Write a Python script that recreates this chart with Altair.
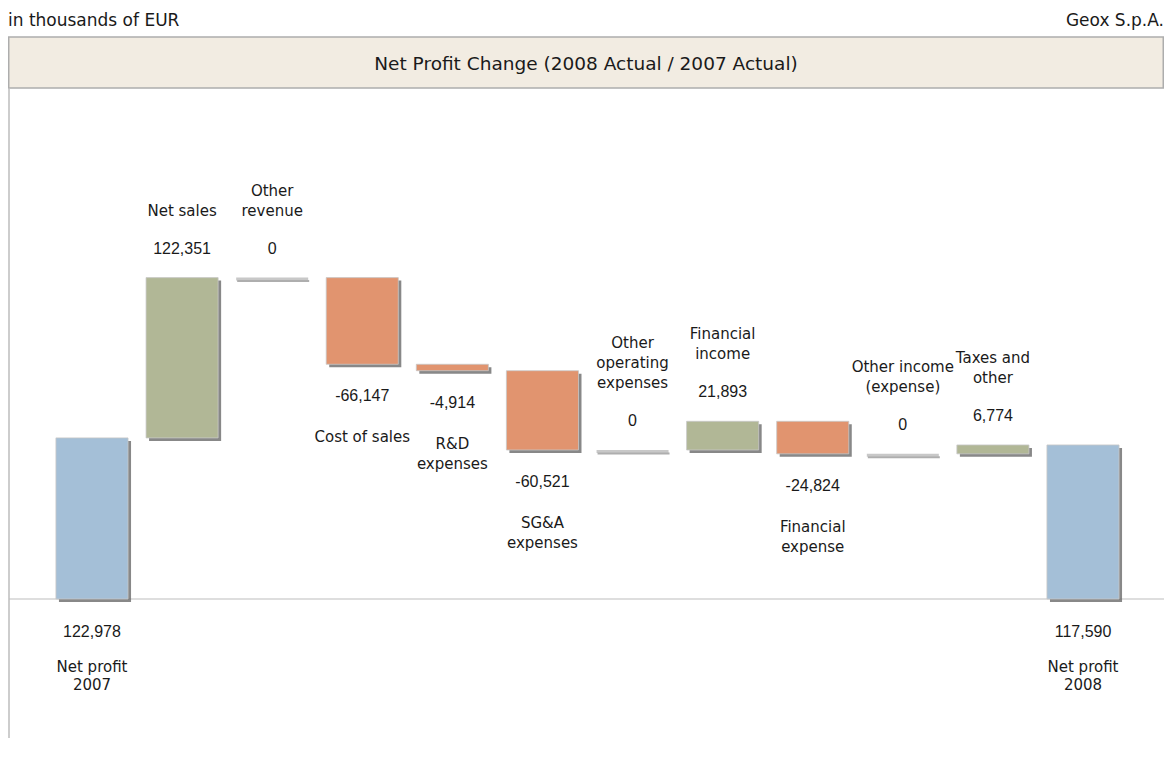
import altair as alt
import pandas as pd

# ---- data (in thousands of EUR) ----
labels = ["Net profit\n2007", "Net sales", "Other\nrevenue", "Cost of sales",
          "R&D\nexpenses", "SG&A\nexpenses", "Other\noperating\nexpenses",
          "Financial\nincome", "Financial\nexpense", "Other income\n(expense)",
          "Taxes and\nother", "Net profit\n2008"]
values = [122978, 122351, 0, -66147, -4914, -60521, 0, 21893, -24824, 0, 6774, 117590]
kinds = ["total", "up", "zero", "down", "down", "down", "zero", "up", "down", "zero", "up", "total"]

rows = []
running = 0
for lab, v, k in zip(labels, values, kinds):
    if k == "total":
        start, end = 0, v
        running = v
    else:
        start, end = running, running + v
        running = end
    rows.append(dict(key=lab, value=v, kind=k, start=start, end=end,
                     top=max(start, end), bottom=min(start, end),
                     text=f"{v:,}", zero=0, nlines=lab.count("\n") + 1))
df = pd.DataFrame(rows)

W, H = 1156, 730
px_per_unit = 1.31 / 1000.0
zero_y = 591
yscale = alt.Scale(domain=[-(H - zero_y) / px_per_unit, zero_y / px_per_unit], nice=False, zero=False)
xenc = alt.X("key:N", sort=labels, axis=None,
             scale=alt.Scale(range=[38.95, 1120.05], paddingInner=0.2, paddingOuter=0.1))

LABEL_FONT = "DejaVu Sans"
NUM_FONT = "Liberation Sans"
TXT = "#1a1a1a"
LH = 20

base = alt.Chart(df)

shadow = base.transform_filter("datum.kind != 'zero'").mark_bar(
    color="#6a6a6a", opacity=0.8, xOffset=3, x2Offset=3, yOffset=3, y2Offset=3
).encode(x=xenc, y=alt.Y("start:Q", scale=yscale, axis=None), y2="end:Q")

bars = base.transform_filter("datum.kind != 'zero'").mark_bar(
    stroke="#C8C8C8", strokeWidth=0.8
).encode(
    x=xenc, y=alt.Y("start:Q", scale=yscale, axis=None), y2="end:Q",
    color=alt.Color("kind:N", legend=None,
                    scale=alt.Scale(domain=["total", "up", "down"],
                                    range=["#A4BFD7", "#B1B796", "#E1946F"])),
)

zero_shadow = base.transform_filter("datum.kind == 'zero'").mark_tick(
    orient="horizontal", thickness=2, size=72, color="#8C8C8C", yOffset=3.5, xOffset=1
).encode(x=xenc, y=alt.Y("end:Q", scale=yscale, axis=None))

zero_bars = base.transform_filter("datum.kind == 'zero'").mark_tick(
    orient="horizontal", thickness=3, size=72, color="#B0B0B0", yOffset=1.5
).encode(x=xenc, y=alt.Y("end:Q", scale=yscale, axis=None))

# value labels
up_vals = base.transform_filter("datum.kind == 'up' || datum.kind == 'zero'").mark_text(
    font=NUM_FONT, fontSize=16, color=TXT, baseline="middle", dy=-29
).encode(x=xenc, y=alt.Y("top:Q", scale=yscale, axis=None), text="text:N")

down_vals = base.transform_filter("datum.kind == 'down'").mark_text(
    font=NUM_FONT, fontSize=16, color=TXT, baseline="middle", dy=32
).encode(x=xenc, y=alt.Y("bottom:Q", scale=yscale, axis=None), text="text:N")

tot_vals = base.transform_filter("datum.kind == 'total'").mark_text(
    font=NUM_FONT, fontSize=16, color=TXT, baseline="middle", dy=33
).encode(x=xenc, y=alt.Y("zero:Q", scale=yscale, axis=None), text="text:N")

# category labels above positive / zero steps: last line sits at a fixed gap
up_cat_layers = []
for n in (1, 2, 3):
    up_cat_layers.append(
        base.transform_filter(
            f"(datum.kind == 'up' || datum.kind == 'zero') && datum.nlines == {n}"
        ).mark_text(
            font=LABEL_FONT, fontSize=15, color=TXT, baseline="bottom",
            dy=-59 - (n - 1) * LH, lineBreak="\n", lineHeight=LH
        ).encode(x=xenc, y=alt.Y("top:Q", scale=yscale, axis=None), text="key:N")
    )

down_cats = base.transform_filter("datum.kind == 'down'").mark_text(
    font=LABEL_FONT, fontSize=15, color=TXT, baseline="top", dy=66,
    lineBreak="\n", lineHeight=LH
).encode(x=xenc, y=alt.Y("bottom:Q", scale=yscale, axis=None), text="key:N")

tot_cats = base.transform_filter("datum.kind == 'total'").mark_text(
    font=LABEL_FONT, fontSize=15, color=TXT, baseline="top", dy=61,
    lineBreak="\n", lineHeight=18
).encode(x=xenc, y=alt.Y("zero:Q", scale=yscale, axis=None), text="key:N")

# frame / decoration
dummy = alt.Chart(pd.DataFrame({"zero": [0]}))

baseline = dummy.mark_rule(color="#BDBDBD", strokeWidth=1.2).encode(
    y=alt.Y("zero:Q", scale=yscale, axis=None), x=alt.value(1), x2=alt.value(W))

vline = dummy.mark_rule(color="#BDBDBD", strokeWidth=1.5).encode(
    x=alt.value(1), y=alt.value(80), y2=alt.value(H))

header = dummy.mark_rect(fill="#F2ECE2", stroke="#ADADAD", strokeWidth=1.5).encode(
    x=alt.value(0.75), x2=alt.value(W - 0.75), y=alt.value(29), y2=alt.value(80))

title = dummy.mark_text(font=LABEL_FONT, fontSize=18.5, color=TXT, baseline="middle",
                        align="center", text="Net Profit Change (2008 Actual / 2007 Actual)").encode(
    x=alt.value(578), y=alt.value(56))

unit_txt = dummy.mark_text(font=LABEL_FONT, fontSize=17, color=TXT, baseline="middle",
                           align="left", text="in thousands  of EUR").encode(
    x=alt.value(0), y=alt.value(13))

company = dummy.mark_text(font=LABEL_FONT, fontSize=17, color=TXT, baseline="middle",
                          align="right", text="Geox S.p.A.").encode(
    x=alt.value(W), y=alt.value(13))

chart = alt.layer(
    header, vline, baseline, title, unit_txt, company,
    shadow, bars, zero_shadow, zero_bars,
    up_vals, down_vals, tot_vals, *up_cat_layers, down_cats, tot_cats,
).properties(
    width=W, height=H, padding=0,
    autosize=alt.AutoSizeParams(type="none"),
    background="white",
).configure_view(stroke=None)

chart.save("out.html", embed_options={"renderer": "svg", "actions": False})
